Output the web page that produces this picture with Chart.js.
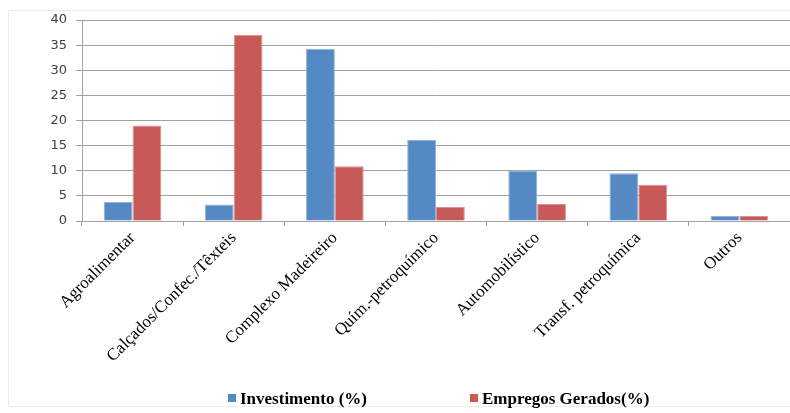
<!DOCTYPE html>
<html>
<head>
<meta charset="utf-8">
<script src="https://cdn.jsdelivr.net/npm/chart.js@4"></script>
<style>
  html, body { margin: 0; padding: 0; background: #fff; }
  #wrap { width: 790px; height: 413px; position: relative; }
  #legend { position: absolute; top: 389px; left: 0; width: 790px; height: 24px;
            font-family: 'Liberation Serif', serif; font-size: 17px; font-weight: bold; color: #000; }
  #legend span { position: absolute; top: 0; white-space: nowrap; }
  #legend i { display: inline-block; width: 8px; height: 8px; margin-right: 4px; vertical-align: 2px; }
</style>
</head>
<body>
<div id="wrap">
  <canvas id="setoresChart"></canvas>
  <div id="legend"></div>
</div>
<script>
// Investimento x empregos por setor
const categories = ['Agroalimentar', 'Calçados/Confec./Têxteis', 'Complexo Madeireiro', 'Quím.-petroquímico', 'Automobilístico', 'Transf. petroquímica', 'Outros'];
const investimento = [3.8, 3.3, 34.3, 16.1, 10.0, 9.5, 1.0];
const empregos = [19.0, 37.0, 10.9, 2.8, 3.4, 7.2, 1.0];
const yTicks = [0, 5, 10, 15, 20, 25, 30, 35, 40];
const seriesNames = ['Investimento (%)', 'Empregos Gerados(%)'];
const seriesColors = ['#5589c4', '#c75a58'];

(function() {
    const ctx = document.getElementById('setoresChart');
    if (!ctx) return;

    if (typeof Chart === 'undefined') {
        console.error('Chart.js not loaded');
        return;
    }

    // faint frame around the picture, like the pasted office chart
    const frame = {
        id: 'frame',
        beforeDraw(chart) {
            const c = chart.ctx;
            c.save();
            c.strokeStyle = '#ececec';
            c.lineWidth = 1;
            c.strokeRect(8.5, 10.5, 800, 396);
            c.restore();
        }
    };

    const chart = new Chart(ctx, {
        type: 'bar',
        data: {
            labels: categories,
            datasets: [{
                label: seriesNames[0],
                data: investimento,
                backgroundColor: seriesColors[0],
                borderColor: '#8fb3dd',
                borderWidth: 1,
                categoryPercentage: 0.57,
                barPercentage: 1.0
            }, {
                label: seriesNames[1],
                data: empregos,
                backgroundColor: seriesColors[1],
                borderColor: '#dc9290',
                borderWidth: 1,
                categoryPercentage: 0.57,
                barPercentage: 1.0
            }]
        },
        options: {
            responsive: true,
            maintainAspectRatio: false,
            animation: false,
            layout: { padding: { top: 20, right: 0, left: 20, bottom: 0 } },
            scales: {
                x: {
                    grid: {
                        display: true,
                        drawOnChartArea: false,
                        offset: true,
                        color: '#a0a0a0',
                        tickLength: 5
                    },
                    border: { color: '#a0a0a0' },
                    ticks: {
                        color: '#000',
                        maxRotation: 45,
                        minRotation: 45,
                        padding: 2,
                        font: { family: 'Liberation Serif', size: 17 }
                    },
                    afterFit(scale) { scale.height = 192; }
                },
                y: {
                    min: 0,
                    max: 40,
                    afterBuildTicks(scale) {
                        scale.ticks = yTicks.map(v => ({ value: v }));
                    },
                    grid: { color: '#a0a0a0', tickLength: 6 },
                    border: { color: '#a0a0a0' },
                    ticks: {
                        color: '#404040',
                        padding: 9,
                        crossAlign: 'near',
                        font: { family: 'DejaVu Sans', size: 13 }
                    },
                    afterFit(scale) { scale.width = 62; }
                }
            },
            plugins: {
                legend: { display: false },
                tooltip: { enabled: false }
            }
        },
        plugins: [frame]
    });

    // legend as html text, spaced like the original
    const legendX = [228, 470];
    const legend = document.getElementById('legend');
    chart.data.datasets.forEach((ds, i) => {
        const item = document.createElement('span');
        item.style.left = legendX[i] + 'px';
        item.innerHTML = '<i style="background:' + ds.backgroundColor + '"></i>' + ds.label;
        legend.appendChild(item);
    });
})();
</script>
</body>
</html>
